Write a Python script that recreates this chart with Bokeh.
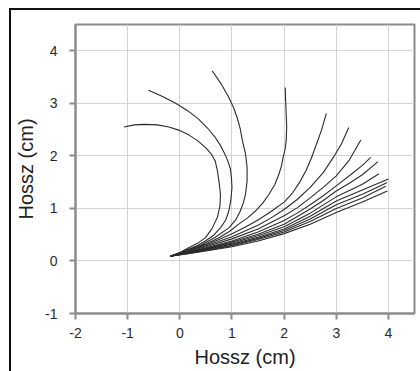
from bokeh.plotting import figure
from bokeh.models import Range1d, FixedTicker
from bokeh.embed import file_html
from bokeh.resources import INLINE

# Curves (x, y in cm)
curve_a_x = [-0.18, 0.00, 0.17, 0.33, 0.49, 0.62, 0.72, 0.77, 0.78, 0.75, 0.72, 0.68, 0.60, 0.49, 0.34, 0.17, -0.02, -0.21, -0.43, -0.66, -0.87, -1.07]
curve_a_y = [0.09, 0.16, 0.25, 0.33, 0.44, 0.62, 0.83, 1.05, 1.27, 1.52, 1.72, 1.90, 2.04, 2.16, 2.29, 2.40, 2.49, 2.55, 2.59, 2.60, 2.59, 2.55]

curve_b_x = [-0.18, 0.00, 0.15, 0.33, 0.49, 0.65, 0.78, 0.88, 0.94, 0.98, 1.00, 0.99, 0.97, 0.93, 0.88, 0.79, 0.68, 0.53, 0.36, 0.15, -0.08, -0.33, -0.60]
curve_b_y = [0.09, 0.15, 0.22, 0.29, 0.38, 0.49, 0.63, 0.78, 0.95, 1.17, 1.40, 1.58, 1.75, 1.88, 2.00, 2.18, 2.35, 2.53, 2.70, 2.86, 3.00, 3.13, 3.25]

curve_c_x = [-0.18, 0.10, 0.40, 0.68, 0.94, 1.07, 1.16, 1.22, 1.26, 1.29, 1.29, 1.26, 1.20, 1.16, 1.10, 1.03, 0.94, 0.80, 0.62]
curve_c_y = [0.09, 0.19, 0.30, 0.45, 0.63, 0.78, 0.95, 1.11, 1.27, 1.52, 1.78, 2.04, 2.29, 2.51, 2.73, 2.92, 3.11, 3.36, 3.62]

curve_d_x = [-0.18, 0.05, 0.30, 0.52, 0.75, 0.95, 1.13, 1.30, 1.45, 1.59, 1.71, 1.82, 1.90, 1.95, 1.98, 2.02, 2.04, 2.05, 2.04, 2.03, 2.02]
curve_d_y = [0.09, 0.17, 0.25, 0.33, 0.44, 0.56, 0.70, 0.82, 0.95, 1.10, 1.27, 1.45, 1.65, 1.81, 1.97, 2.13, 2.29, 2.55, 2.79, 3.05, 3.30]

curve_e_x = [-0.18, 0.15, 0.50, 0.75, 1.00, 1.25, 1.50, 1.75, 2.00, 2.15, 2.30, 2.42, 2.52, 2.62, 2.72, 2.81]
curve_e_y = [0.09, 0.20, 0.31, 0.41, 0.52, 0.64, 0.78, 0.94, 1.12, 1.28, 1.50, 1.72, 1.95, 2.22, 2.50, 2.81]

curve_f_x = [-0.18, 0.15, 0.50, 1.00, 1.50, 1.75, 2.00, 2.25, 2.50, 2.75, 2.95, 3.10, 3.24]
curve_f_y = [0.09, 0.19, 0.29, 0.46, 0.68, 0.82, 0.98, 1.17, 1.40, 1.68, 1.98, 2.23, 2.54]

curve_g_x = [-0.18, 0.15, 0.50, 1.00, 1.50, 2.00, 2.25, 2.50, 2.75, 3.00, 3.25, 3.47]
curve_g_y = [0.09, 0.18, 0.27, 0.42, 0.61, 0.86, 1.01, 1.20, 1.40, 1.62, 1.92, 2.30]

curve_h_x = [-0.18, 0.15, 0.50, 1.00, 1.50, 2.00, 2.25, 2.50, 2.75, 3.00, 3.30, 3.50, 3.66]
curve_h_y = [0.09, 0.17, 0.25, 0.38, 0.55, 0.77, 0.91, 1.07, 1.24, 1.43, 1.66, 1.82, 1.97]

curve_i_x = [-0.18, 0.15, 0.50, 1.00, 1.50, 2.00, 2.50, 2.75, 3.00, 3.25, 3.50, 3.80]
curve_i_y = [0.09, 0.16, 0.24, 0.36, 0.51, 0.70, 0.99, 1.15, 1.33, 1.48, 1.64, 1.89]

curve_j_x = [-0.18, 0.15, 0.50, 1.00, 1.50, 2.00, 2.50, 3.00, 3.50, 3.82]
curve_j_y = [0.09, 0.16, 0.23, 0.34, 0.48, 0.65, 0.91, 1.22, 1.46, 1.66]

curve_k_x = [-0.18, 0.15, 0.50, 1.00, 1.50, 2.00, 2.50, 3.00, 3.50, 4.00]
curve_k_y = [0.09, 0.15, 0.22, 0.32, 0.45, 0.61, 0.85, 1.14, 1.35, 1.56]

curve_l_x = [-0.18, 0.15, 0.50, 1.00, 1.50, 2.00, 2.50, 3.00, 3.50, 3.97]
curve_l_y = [0.09, 0.15, 0.21, 0.30, 0.43, 0.58, 0.80, 1.07, 1.27, 1.49]

curve_m_x = [-0.18, 0.15, 0.50, 1.00, 1.50, 2.00, 2.50, 3.00, 3.50, 3.95]
curve_m_y = [0.09, 0.14, 0.20, 0.29, 0.41, 0.55, 0.75, 1.00, 1.20, 1.42]

curve_n_x = [-0.18, 0.15, 0.50, 1.00, 1.50, 2.00, 2.50, 3.00, 3.50, 3.98]
curve_n_y = [0.09, 0.14, 0.19, 0.27, 0.38, 0.52, 0.70, 0.92, 1.12, 1.33]

x_ticks = [-2, -1, 0, 1, 2, 3, 4]
y_ticks = [-1, 0, 1, 2, 3, 4]
x_tick_labels = ["-2", "-1", "0", "1", "2", "3", "4"]
y_tick_labels = ["-1", "0", "1", "2", "3", "4"]
x_label = "Hossz (cm)"
y_label = "Hossz (cm)"

curves = [
    (curve_a_x, curve_a_y), (curve_b_x, curve_b_y), (curve_c_x, curve_c_y),
    (curve_d_x, curve_d_y), (curve_e_x, curve_e_y), (curve_f_x, curve_f_y),
    (curve_g_x, curve_g_y), (curve_h_x, curve_h_y), (curve_i_x, curve_i_y),
    (curve_j_x, curve_j_y), (curve_k_x, curve_k_y), (curve_l_x, curve_l_y),
    (curve_m_x, curve_m_y), (curve_n_x, curve_n_y),
]

p = figure(width=411, height=363, output_backend="svg", toolbar_location=None,
           x_range=Range1d(-2, 4.5), y_range=Range1d(-1, 4.5),
           min_border_left=64, min_border_right=8, min_border_top=14, min_border_bottom=60)
p.margin = (8, 0, 0, 9)
p.styles = {"border-top": "2px solid #111", "border-left": "2px solid #111"}

p.background_fill_color = "white"
p.border_fill_color = "white"
p.outline_line_color = "#8c8c8c"
p.outline_line_width = 2

for ax, ticks, labels in ((p.xaxis, x_ticks, x_tick_labels), (p.yaxis, y_ticks, y_tick_labels)):
    ax.ticker = FixedTicker(ticks=ticks)
    ax.major_label_overrides = {t: s for t, s in zip(ticks, labels)}
    ax.axis_line_color = "#8c8c8c"
    ax.axis_line_width = 2
    ax.major_tick_line_color = "#8c8c8c"
    ax.major_tick_line_width = 2
    ax.major_tick_out = 6
    ax.major_tick_in = 0
    ax.minor_tick_line_color = None
    ax.major_label_text_font = "Liberation Sans"
    ax.major_label_text_font_size = "14px"
    ax.major_label_text_color = "#2a2a2a"
    ax.axis_label_text_font = "Liberation Sans"
    ax.axis_label_text_font_size = "20px"
    ax.axis_label_text_font_style = "normal"
    ax.axis_label_text_color = "#222222"

p.xaxis.axis_label = x_label
p.yaxis.axis_label = y_label
p.xaxis.major_label_standoff = 8
p.yaxis.major_label_standoff = 12
p.xaxis.axis_label_standoff = 5
p.yaxis.axis_label_standoff = 5

p.xgrid.ticker = FixedTicker(ticks=x_ticks)
p.ygrid.ticker = FixedTicker(ticks=y_ticks)
p.grid.grid_line_color = "#d4d4d4"
p.grid.grid_line_width = 1

for cx, cy in curves:
    p.line(cx, cy, line_color="#2b2b2b", line_width=1.1)

open("out.html", "w").write(file_html(p, INLINE))
